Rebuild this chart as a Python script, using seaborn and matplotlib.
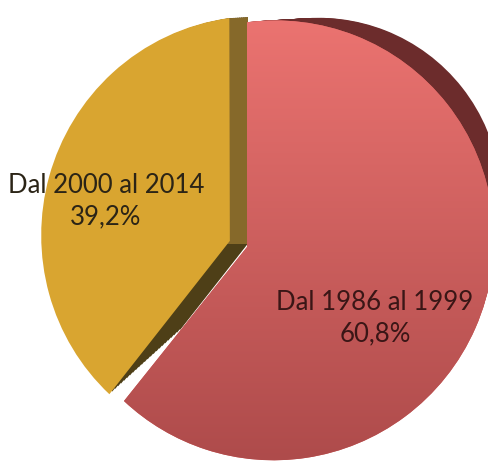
import numpy as np
import matplotlib.pyplot as plt
import seaborn as sns
from matplotlib.colors import LinearSegmentedColormap
from matplotlib.transforms import Transform, Affine2D, Bbox, TransformedBbox

# data
periods = ['Dal 1986 al 1999', 'Dal 2000 al 2014']
shares = [60.8, 39.2]
share_labels = ['60,8%', '39,2%']

face_colors = ['#D45F5C', '#D9A530']
side_colors = ['#6C2C2C', '#4E3F17']
gold_wall = '#86692A'
red_top, red_bottom = '#EE7572', '#AE4B4B'


class Tilt(Transform):
    """cheap perspective so the pie looks like excel's 3d pie"""
    input_dims = output_dims = 2

    def __init__(self, g, h):
        super().__init__()
        self.g, self.h = g, h

    def transform_non_affine(self, values):
        v = np.asarray(values, dtype=float)
        d = 1 + self.g * v[:, 0] + self.h * v[:, 1]
        return v / d[:, None]


sns.set_theme(style='white')
plt.rcParams['font.family'] = ['Lato', 'DejaVu Sans']

W, H = 488, 461
fig = plt.figure(figsize=(W / 100, H / 100), dpi=100)
ax = fig.add_axes([0, 0, 1, 1])
ax.set_xlim(0, W)
ax.set_ylim(0, H)

# pie apex in pixels (from top-left), scale and tilt
cx, cy = 247, 247
sx, sy = 216, 218
tilt = Tilt(-0.125, -0.03)
# back face: shifted up/right and a bit smaller
depth_dx, depth_dy, shrink = 48, 40, 0.835
explode = [0, 0.085]


def place(t=0.0):
    k = 1 - t * (1 - shrink)
    return (tilt + Affine2D().scale(sx * k, sy * k)
            .translate(cx + t * depth_dx, H - cy + t * depth_dy) + ax.transData)


steps = np.linspace(1, 0, 24, endpoint=False)
left_of_cut = TransformedBbox(Bbox([[0, 0], [cx + 1, H]]), ax.transData)
upper_left = TransformedBbox(Bbox([[0, H - 244], [cx + 1, H]]), ax.transData)


def clip_to(patch, box):
    # pie wedges come with clip_on=False
    patch.set_clip_path(None)
    patch.set_clip_box(box)
    patch.set_clip_on(True)


# side walls: sweep darker copies of the pie
for t in steps:
    side, _ = ax.pie(shares, startangle=90, counterclock=False, explode=explode,
                     colors=side_colors, wedgeprops=dict(linewidth=0))
    side[0].set_transform(place(t))
    side[0].set_zorder(1)
    side[1].set_transform(place(t))
    side[1].set_zorder(0.8)
    clip_to(side[1], left_of_cut)

    # lighter wall along the vertical cut of the gold slice
    wall, _ = ax.pie(shares, startangle=90, counterclock=False, explode=explode,
                     colors=['white', gold_wall], wedgeprops=dict(linewidth=0))
    wall[0].remove()
    wall[1].set_transform(place(t))
    wall[1].set_zorder(0.9)
    clip_to(wall[1], upper_left)

# top faces
wedges, _ = ax.pie(shares, startangle=90, counterclock=False, explode=explode,
                   colors=face_colors, wedgeprops=dict(linewidth=0))
for w in wedges:
    w.set_transform(place())
    w.set_zorder(2)

# vertical shading on the red face
grad = np.linspace(0, 1, 256).reshape(-1, 1)
cmap = LinearSegmentedColormap.from_list('red3d', [red_top, red_bottom])
im = ax.imshow(grad, extent=[0, W, 0, H], cmap=cmap,
               aspect='auto', origin='upper', zorder=2.5)
im.set_clip_path(wedges[0])

# labels
for lab, share, (px, py), col in zip(periods, share_labels,
                                     [(375, 318), (106, 201)],
                                     ['#3A1616', '#2B2416']):
    ax.text(px, H - py, f'{lab}\n{share}', ha='center', va='center',
            fontsize=18.5, color=col, linespacing=1.3, zorder=3)

ax.set_aspect('auto')
ax.set_xlim(0, W)
ax.set_ylim(0, H)
ax.axis('off')

fig.savefig('out.png', dpi=100, facecolor='white')
